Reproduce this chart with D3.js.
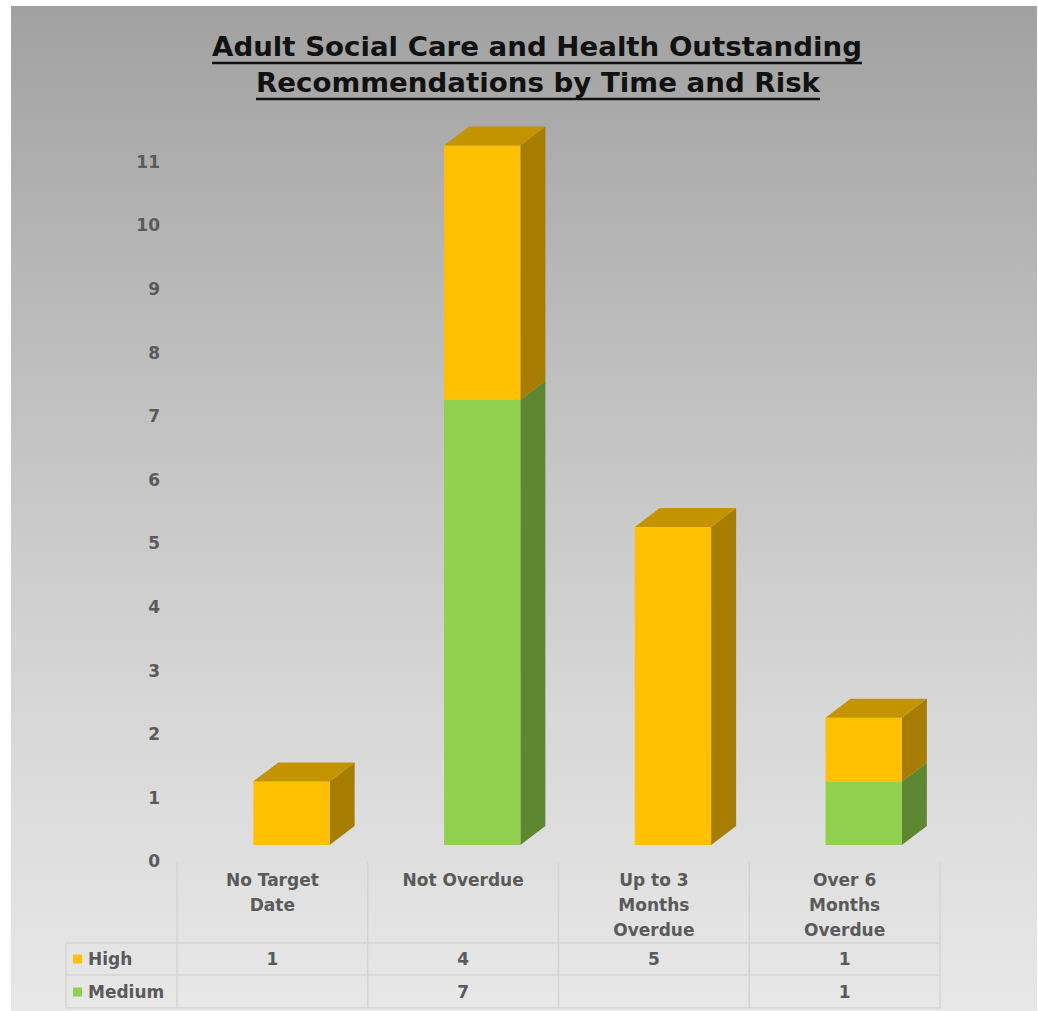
<!DOCTYPE html>
<html>
<head>
<meta charset="utf-8">
<script src="https://cdn.jsdelivr.net/npm/d3@7"></script>
<style>
  html, body { margin: 0; padding: 0; background: #ffffff; }
  svg { display: block; }
</style>
</head>
<body>
<svg id="chart" width="1038" height="1011"></svg>
<script>
// ---- data ----
const categories = ["No Target Date", "Not Overdue", "Up to 3 Months Overdue", "Over 6 Months Overdue"];
const categoryLines = [["No Target", "Date"], ["Not Overdue"], ["Up to 3", "Months", "Overdue"], ["Over 6", "Months", "Overdue"]];
const seriesNames = ["Medium", "High"];          // stacking order, bottom first
const mediumValues = [null, 7, null, 1];
const highValues = [1, 4, 5, 1];
const yTicks = [0, 1, 2, 3, 4, 5, 6, 7, 8, 9, 10, 11];
const titleLines = ["Adult Social Care and Health Outstanding", "Recommendations by Time and Risk"];

// ---- styling ----
const palette = {
  High:   { front: "#FFC000", top: "#C49400", side: "#A67D00" },
  Medium: { front: "#92D050", top: "#74A83E", side: "#5E8732" }
};
const labelFont = "'DejaVu Sans', sans-serif";
const textGrey = "#5a5a5a";
const labelSize = 17;

const svg = d3.select("#chart");

// panel background gradient
const defs = svg.append("defs");
const grad = defs.append("linearGradient").attr("id", "bg").attr("x1", 0).attr("y1", 0).attr("x2", 0).attr("y2", 1);
[[0, "#a0a1a0"], [0.35, "#bebebe"], [0.7, "#d6d7d6"], [1, "#e7e8e7"]].forEach(([o, c]) =>
  grad.append("stop").attr("offset", o).attr("stop-color", c));
svg.append("rect").attr("x", 11).attr("y", 6).attr("width", 1026).attr("height", 1005).attr("fill", "url(#bg)");

// ---- title ----
const titleG = svg.append("g");
const titleCfg = [{ y: 56, w: 650, cx: 537, uy: 63 }, { y: 92, w: 564, cx: 538, uy: 99 }];
titleLines.forEach((t, i) => {
  const c = titleCfg[i];
  titleG.append("text")
    .attr("x", c.cx).attr("y", c.y)
    .attr("text-anchor", "middle")
    .attr("font-family", labelFont).attr("font-weight", "bold").attr("font-size", 27)
    .attr("textLength", c.w).attr("lengthAdjust", "spacingAndGlyphs")
    .attr("fill", "#111111")
    .text(t);
  titleG.append("line")
    .attr("x1", c.cx - c.w / 2).attr("x2", c.cx + c.w / 2)
    .attr("y1", c.uy).attr("y2", c.uy)
    .attr("stroke", "#111111").attr("stroke-width", 2.5);
});

// ---- scales ----
const x = d3.scaleBand().domain(categories).range([177, 940]).paddingInner(0).paddingOuter(0);
const y = d3.scaleLinear().domain([0, 11]).range([845, 145.4]);
const depth = { dx: 25, dy: -19 };
const barFrac = 0.4;

// ---- value axis (labels sit on the back floor plane) ----
const yAxis = d3.axisLeft(y).tickValues(yTicks).tickSize(0).tickPadding(0).tickFormat(d3.format("d"));
const yAxisG = svg.append("g").attr("transform", "translate(160,16)").call(yAxis);
yAxisG.select(".domain").remove();
yAxisG.selectAll("text")
  .attr("font-family", labelFont).attr("font-size", labelSize).attr("fill", textGrey)
  .attr("font-weight", "bold").attr("dy", "0.35em");

// ---- stacked 3D bars ----
const rows = categories.map((c, i) => ({ cat: c, Medium: mediumValues[i] || 0, High: highValues[i] || 0 }));
const stack = d3.stack().keys(seriesNames)(rows);

const segments = [];
stack.forEach(layer => {
  layer.forEach((d, i) => {
    if (d[1] - d[0] > 0) segments.push({ key: layer.key, cat: categories[i], y0: d[0], y1: d[1], total: rows[i].Medium + rows[i].High });
  });
});

const barsG = svg.append("g");
const bw = x.bandwidth() * barFrac;
segments.forEach(s => {
  const x0 = x(s.cat) + x.bandwidth() * barFrac;
  const x1 = x0 + bw;
  const yb = y(s.y0), yt = y(s.y1);
  const col = palette[s.key];
  const g = barsG.append("g");
  // side face
  g.append("path")
    .attr("d", `M${x1},${yb} L${x1 + depth.dx},${yb + depth.dy} L${x1 + depth.dx},${yt + depth.dy} L${x1},${yt} Z`)
    .attr("fill", col.side);
  // front face
  g.append("rect").attr("x", x0).attr("y", yt).attr("width", bw).attr("height", yb - yt).attr("fill", col.front);
  // top face only on the topmost segment
  if (s.y1 === s.total) {
    g.append("path")
      .attr("d", `M${x0},${yt} L${x0 + depth.dx},${yt + depth.dy} L${x1 + depth.dx},${yt + depth.dy} L${x1},${yt} Z`)
      .attr("fill", col.top);
  }
});

// ---- data table ----
const tableG = svg.append("g");
const gridColor = "#d3d4d3";
const headTop = 862, headBottom = 943, row1Bottom = 975, row2Bottom = 1008, legendLeft = 66;
const edges = categories.map(c => x(c)).concat([x.range()[1]]);
edges.forEach(e => tableG.append("line").attr("x1", e).attr("x2", e).attr("y1", headTop).attr("y2", row2Bottom)
  .attr("stroke", gridColor).attr("stroke-width", 1.5));
tableG.append("line").attr("x1", legendLeft).attr("x2", legendLeft).attr("y1", headBottom).attr("y2", row2Bottom)
  .attr("stroke", gridColor).attr("stroke-width", 1.5);
[headBottom, row1Bottom, row2Bottom].forEach(yy => tableG.append("line")
  .attr("x1", legendLeft).attr("x2", x.range()[1]).attr("y1", yy).attr("y2", yy)
  .attr("stroke", gridColor).attr("stroke-width", 1.5));

// category labels
categories.forEach((c, i) => {
  categoryLines[i].forEach((ln, j) => {
    tableG.append("text")
      .attr("x", x(c) + x.bandwidth() / 2).attr("y", 880 + j * 25).attr("dy", "0.35em")
      .attr("text-anchor", "middle")
      .attr("font-family", labelFont).attr("font-size", labelSize).attr("font-weight", "bold").attr("fill", textGrey)
      .text(ln);
  });
});

// value rows with legend keys
const tableRows = [{ name: "High", values: highValues, cy: 959 }, { name: "Medium", values: mediumValues, cy: 992 }];
tableRows.forEach(r => {
  tableG.append("rect").attr("x", 73).attr("y", r.cy - 4.5).attr("width", 9).attr("height", 9).attr("fill", palette[r.name].front);
  tableG.append("text").attr("x", 88).attr("y", r.cy).attr("dy", "0.35em")
    .attr("font-family", labelFont).attr("font-size", labelSize).attr("font-weight", "bold").attr("fill", textGrey)
    .text(r.name);
  r.values.forEach((v, i) => {
    if (v == null) return;
    tableG.append("text")
      .attr("x", x(categories[i]) + x.bandwidth() / 2).attr("y", r.cy).attr("dy", "0.35em")
      .attr("text-anchor", "middle")
      .attr("font-family", labelFont).attr("font-size", labelSize).attr("font-weight", "bold").attr("fill", textGrey)
      .text(v);
  });
});
</script>
</body>
</html>
